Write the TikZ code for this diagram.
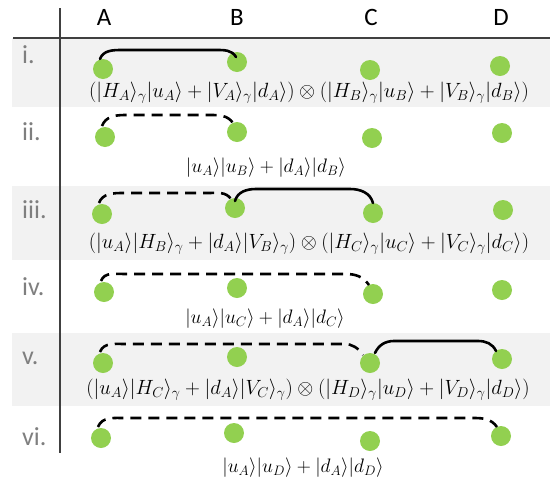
\RequirePackage{fix-cm}
\documentclass[tikz,border=0pt]{standalone}
\usepackage{fontspec}
\newfontfamily\carl{Carlito}
\usetikzlibrary{calc}
\definecolor{dotgreen}{HTML}{92D050}
\definecolor{bandgray}{HTML}{F2F2F2}
\definecolor{labgray}{HTML}{7F7F7F}
\definecolor{rulegray}{HTML}{404040}
\tikzset{
  qdot/.style={circle,fill=dotgreen,minimum size=20pt,inner sep=0pt},
  solidarc/.style={line width=2.6pt,line cap=round},
  dasharc/.style={line width=2.6pt,dash pattern=on 11pt off 7pt},
  band/.style={fill=bandgray,draw=none},
  rule/.style={draw=rulegray,line width=1.1pt},
  hdr/.style={font=\carl\fontsize{25}{28}\selectfont,inner sep=0pt},
  rowlab/.style={font=\carl\fontsize{26}{30}\selectfont,text=labgray,anchor=west,inner sep=0pt},
  bigformula/.style={font=\fontsize{20.6}{24}\selectfont,inner sep=0pt},
  formula/.style={font=\fontsize{19.5}{22}\selectfont,inner sep=0pt},
}
\begin{document}
\begin{tikzpicture}[x=1pt,y=-1pt]
\useasboundingbox (0,0) rectangle (550,483);
% bands
\fill[band] (12,38) rectangle (550,107);
\fill[band] (12,186) rectangle (550,260);
\fill[band] (12,333) rectangle (550,406);
% rules
\draw[rule] (60,8) -- (60,453);
\draw[rule] (13,38) -- (550,38);
% header
\node[hdr] (hA) at (104,17) {A};
\node[hdr] (hB) at (237,17) {B};
\node[hdr] (hC) at (371,17) {C};
\node[hdr] (hD) at (501,17) {D};
% row labels
\node[rowlab] (l1) at (22,55) {i.};
\node[rowlab] (l2) at (22,132) {ii.};
\node[rowlab] (l3) at (22,210) {iii.};
\node[rowlab] (l4) at (22,287) {iv.};
\node[rowlab] (l5) at (22,358) {v.};
\node[rowlab] (l6) at (22,437) {vi.};
% dots
\node[qdot] (a1) at (103,69) {};
\node[qdot] (b1) at (237,62) {};
\node[qdot] (c1) at (370,70) {};
\node[qdot] (d1) at (500,66) {};
\node[qdot] (a2) at (105,137) {};
\node[qdot] (b2) at (237,132) {};
\node[qdot] (c2) at (372,138) {};
\node[qdot] (d2) at (502,133) {};
\node[qdot] (a3) at (102,214) {};
\node[qdot] (b3) at (235,208) {};
\node[qdot] (c3) at (373,213) {};
\node[qdot] (d3) at (503,210) {};
\node[qdot] (a4) at (104,292) {};
\node[qdot] (b4) at (237,288) {};
\node[qdot] (c4) at (373,294) {};
\node[qdot] (d4) at (502,290) {};
\node[qdot] (a5) at (103,363) {};
\node[qdot] (b5) at (237,357) {};
\node[qdot] (c5) at (370,363) {};
\node[qdot] (d5) at (502,359) {};
\node[qdot] (a6) at (101,438) {};
\node[qdot] (b6) at (234,433) {};
\node[qdot] (c6) at (370,441) {};
\node[qdot] (d6) at (501,436) {};
% arcs
\draw[solidarc] ([shift={(-3pt,10pt)}]a1.center) to[out=70,in=180] (122,50) -- (216,50) to[out=0,in=120] ([shift={(-1pt,5pt)}]b1.center);
\draw[dasharc] ([shift={(-3pt,11pt)}]a2.center) to[out=70,in=180] (125,115) -- (210,115) to[out=0,in=125] ([shift={(-4pt,9pt)}]b2.center);
\draw[dasharc] ([shift={(-3pt,11pt)}]a3.center) to[out=70,in=180] (124,193) -- (208,193) to[out=0,in=125] ([shift={(-4pt,9pt)}]b3.center);
\draw[solidarc] ([shift={(0pt,7pt)}]b3.center) to[out=75,in=180] (256,189) -- (350,189) to[out=0,in=105] ([shift={(0pt,10pt)}]c3.center);
\draw[dasharc] ([shift={(-3pt,11pt)}]a4.center) to[out=70,in=180] (125,274) -- (346,274) to[out=0,in=125] ([shift={(-4pt,9pt)}]c4.center);
\draw[dasharc] ([shift={(-3pt,11pt)}]a5.center) to[out=70,in=180] (125,344) -- (344,344) to[out=0,in=125] ([shift={(-7pt,8pt)}]c5.center);
\draw[solidarc] ([shift={(5pt,10pt)}]c5.center) to[out=65,in=180] (394,341) -- (478,341) to[out=0,in=115] ([shift={(-6pt,8pt)}]d5.center);
\draw[dasharc] ([shift={(-3pt,11pt)}]a6.center) to[out=70,in=180] (125,418) -- (474,418) to[out=0,in=125] ([shift={(-4pt,9pt)}]d6.center);
% formulas
\node[bigformula] (f1) at (309,93) {$(|H_A\rangle_\gamma|u_A\rangle+|V_A\rangle_\gamma|d_A\rangle)\otimes(|H_B\rangle_\gamma|u_B\rangle+|V_B\rangle_\gamma|d_B\rangle)$};
\node[formula] (f2) at (266,168) {$|u_A\rangle|u_B\rangle+|d_A\rangle|d_B\rangle$};
\node[bigformula] (f3) at (309,244) {$(|u_A\rangle|H_B\rangle_\gamma+|d_A\rangle|V_B\rangle_\gamma)\otimes(|H_C\rangle_\gamma|u_C\rangle+|V_C\rangle_\gamma|d_C\rangle)$};
\node[formula] (f4) at (265,319) {$|u_A\rangle|u_C\rangle+|d_A\rangle|d_C\rangle$};
\node[bigformula] (f5) at (308,390) {$(|u_A\rangle|H_C\rangle_\gamma+|d_A\rangle|V_C\rangle_\gamma)\otimes(|H_D\rangle_\gamma|u_D\rangle+|V_D\rangle_\gamma|d_D\rangle)$};
\node[formula] (f6) at (303,468) {$|u_A\rangle|u_D\rangle+|d_A\rangle|d_D\rangle$};
\end{tikzpicture}
\end{document}
